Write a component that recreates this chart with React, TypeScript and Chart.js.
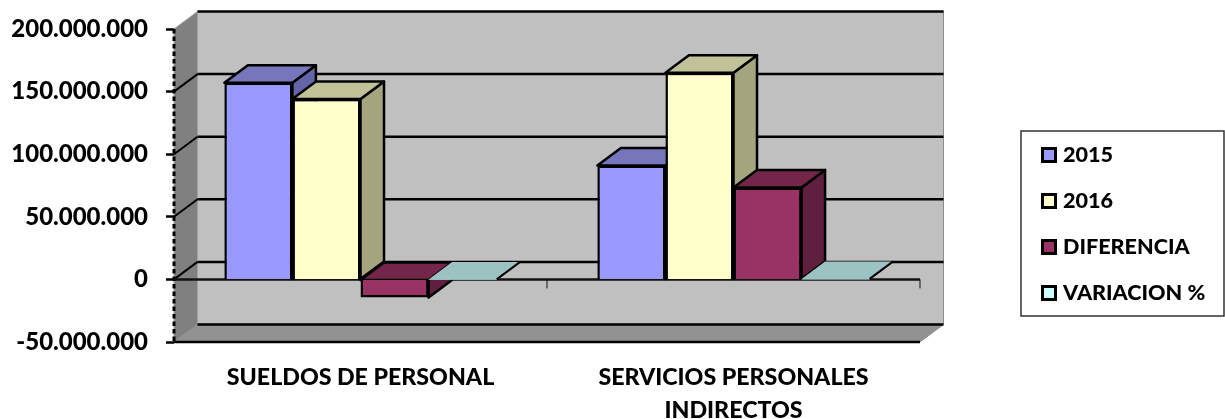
import React, { useEffect, useRef } from "react";
import { Chart, registerables } from "chart.js";

Chart.register(...registerables);

const categories = ["SUELDOS DE PERSONAL", ["SERVICIOS PERSONALES", "INDIRECTOS"]];
const seriesNames = ["2015", "2016", "DIFERENCIA", "VARIACION %"];
const values2015 = [157000000, 91000000];
const values2016 = [144000000, 165000000];
const valuesDiferencia = [-14500000, 73500000];
const valuesVariacion = [-9, 81];

const frontColors = ["#9999FF", "#FFFFCC", "#993366", "#CCFFFF"];
const topColors = ["#7676BC", "#C1C19A", "#732649", "#9CC2C2"];
const sideColors = ["#6464A8", "#A4A47F", "#5F1F3E", "#86A8A8"];
const edgeWidths = [2.5, 2.5, 2.5, 0];

const DX = 23.5;
const DY = 17.5;
const FONT = "Lato, 'Open Sans', sans-serif";

function poly(ctx: CanvasRenderingContext2D, pts: number[][], fill?: string, stroke?: string, lw = 2) {
  ctx.beginPath();
  pts.forEach((p, i) => (i ? ctx.lineTo(p[0], p[1]) : ctx.moveTo(p[0], p[1])));
  ctx.closePath();
  if (fill) {
    ctx.fillStyle = fill;
    ctx.fill();
  }
  if (stroke) {
    ctx.strokeStyle = stroke;
    ctx.lineWidth = lw;
    ctx.lineJoin = "round";
    ctx.stroke();
  }
}

function line(ctx: CanvasRenderingContext2D, x1: number, y1: number, x2: number, y2: number, color: string, lw: number) {
  ctx.beginPath();
  ctx.moveTo(x1, y1);
  ctx.lineTo(x2, y2);
  ctx.strokeStyle = color;
  ctx.lineWidth = lw;
  ctx.stroke();
}

const scene3d = {
  id: "scene3d",
  beforeDraw(chart: any) {
    const { ctx, chartArea: a, scales } = chart;
    const y = scales.y;
    ctx.save();
    poly(ctx, [[a.left + DX, a.top - DY], [a.right + DX, a.top - DY], [a.right + DX, a.bottom - DY], [a.left + DX, a.bottom - DY]], "#C0C0C0", "#8C8C8C", 1);
    poly(ctx, [[a.left, a.top], [a.left + DX, a.top - DY], [a.left + DX, a.bottom - DY], [a.left, a.bottom]], "#808080", "#A0A0A0", 1);
    poly(ctx, [[a.left, a.bottom], [a.left + DX, a.bottom - DY], [a.right + DX, a.bottom - DY], [a.right, a.bottom]], "#929292", "#8C8C8C", 1);
    y.ticks.forEach((t: any) => {
      const py = y.getPixelForValue(t.value);
      if (t.value < y.max && t.value > y.min) line(ctx, a.left, py, a.left + DX, py - DY, "#000", 2);
      line(ctx, a.left + DX, py - DY, a.right + DX, py - DY, "#000", 2.5);
    });
    line(ctx, a.left, a.bottom, a.right, a.bottom, "#000", 2.5);
    ctx.restore();
  },
  beforeDatasetsDraw(chart: any) {
    const { ctx, chartArea: a, scales } = chart;
    const zero = scales.y.getPixelForValue(0);
    ctx.save();
    ctx.setLineDash([4.5, 3]);
    line(ctx, a.left, a.top, a.left, a.bottom, "#000", 3);
    ctx.setLineDash([]);
    line(ctx, a.left, zero, a.right, zero, "#111", 2.5);
    const mid = (a.left + a.right) / 2;
    [mid, a.right].forEach((x) => line(ctx, x, zero, x, zero + 9, "#111", 1));
    chart.data.datasets.forEach((_d: any, i: number) => {
      const meta = chart.getDatasetMeta(i);
      meta.data.forEach((el: any) => {
        const L = el.x - el.width / 2;
        const R = el.x + el.width / 2;
        const T = Math.min(el.y, el.base);
        const B = Math.max(el.y, el.base);
        const st = edgeWidths[i] ? "#000" : undefined;
        if (B - T > 0.5) poly(ctx, [[R, T], [R + DX, T - DY], [R + DX, B - DY], [R, B]], sideColors[i], st, 2.5);
        poly(ctx, [[L, T], [L + DX, T - DY], [R + DX, T - DY], [R, T]], topColors[i], st, 2.5);
        if (!st) line(ctx, R, T, R + DX, T - DY, "#000", 2);
      });
      meta.controller.draw();
    });
    ctx.restore();
    return false;
  },
  afterDraw(chart: any) {
    const { ctx } = chart;
    ctx.save();
    ctx.strokeStyle = "#333";
    ctx.lineWidth = 1.5;
    ctx.strokeRect(1021, 131, 203, 185);
    chart.data.datasets.forEach((d: any, i: number) => {
      const cy = 155 + i * 46;
      ctx.fillStyle = frontColors[i];
      ctx.fillRect(1042.5, cy - 6.5, 13, 13);
      ctx.strokeStyle = "#000";
      ctx.lineWidth = 3;
      ctx.strokeRect(1042.5, cy - 6.5, 13, 13);
      ctx.fillStyle = "#000";
      ctx.font = `900 21.6px ${FONT}`;
      ctx.textAlign = "left";
      ctx.textBaseline = "middle";
      ctx.fillText(d.label, 1063, cy);
    });
    ctx.restore();
  },
};

export default function App() {
  const ref = useRef<HTMLCanvasElement>(null);
  useEffect(() => {
    const makeSet = (i: number, data: number[]) => ({
      label: seriesNames[i],
      data,
      backgroundColor: frontColors[i],
      borderColor: "#000",
      borderWidth: edgeWidths[i],
      categoryPercentage: 0.73,
      barPercentage: 1,
    });
    const chart = new Chart(ref.current as HTMLCanvasElement, {
      type: "bar",
      data: {
        labels: categories as any,
        datasets: [
          makeSet(0, values2015),
          makeSet(1, values2016),
          makeSet(2, valuesDiferencia),
          makeSet(3, valuesVariacion),
        ],
      },
      plugins: [scene3d as any],
      options: {
        responsive: false,
        animation: false,
        layout: { padding: { top: 29, right: 305, left: 0, bottom: 0 } },
        plugins: { legend: { display: false }, tooltip: { enabled: false } },
        scales: {
          x: {
            grid: { display: false },
            border: { display: false },
            afterFit: (s: any) => {
              s.height = 77;
            },
            ticks: {
              color: "#000",
              padding: 12,
              maxRotation: 0,
              autoSkip: false,
              font: { family: FONT, weight: "900", size: 23.2, lineHeight: 1.38 },
            },
          },
          y: {
            min: -50000000,
            max: 200000000,
            afterFit: (s: any) => {
              s.width = 174;
              s.paddingTop = 0;
              s.paddingBottom = 0;
            },
            grid: { drawOnChartArea: false, drawTicks: true, tickLength: 8, tickWidth: 2.5, tickColor: "#000", color: "#000" },
            border: { display: false },
            ticks: {
              stepSize: 50000000,
              color: "#000",
              padding: 18,
              font: { family: FONT, weight: "900", size: 24 },
              callback: (v: any) => String(v).replace(/\B(?=(\d{3})+(?!\d))/g, "."),
            },
          },
        },
      } as any,
    });
    return () => chart.destroy();
  }, []);
  return (
    <div style={{ position: "absolute", left: 0, top: 0, width: 1225, height: 419, background: "#fff" }}>
      <canvas ref={ref} width={1225} height={419} style={{ display: "block" }} />
    </div>
  );
}
